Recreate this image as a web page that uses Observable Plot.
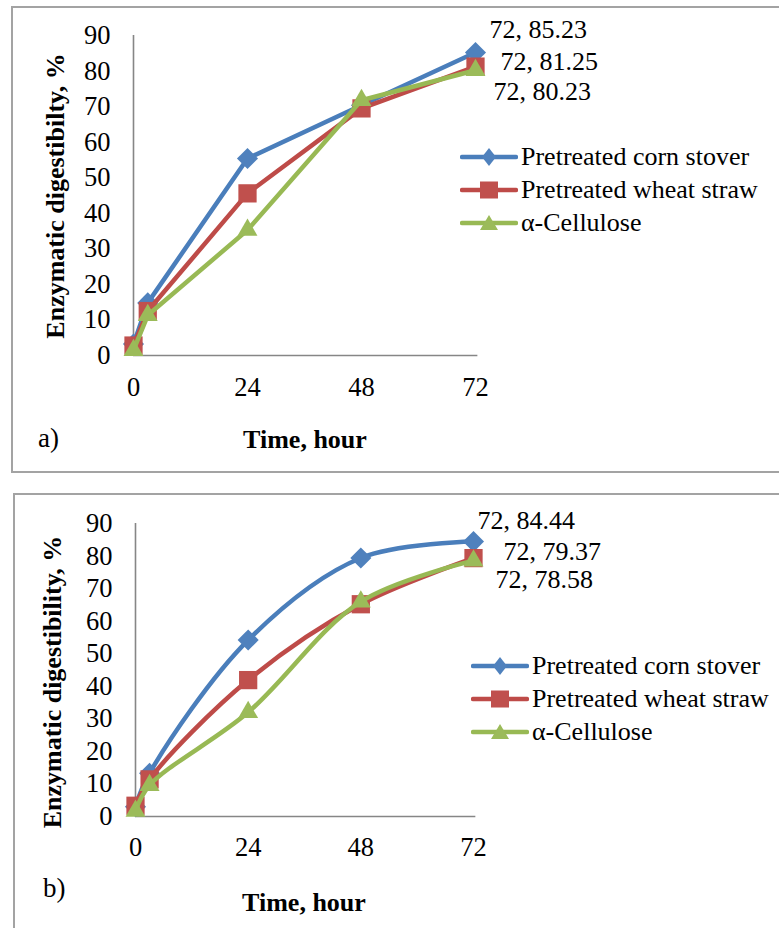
<!DOCTYPE html>
<html>
<head>
<meta charset="utf-8">
<script src="https://cdn.jsdelivr.net/npm/d3@7"></script>
<script src="https://cdn.jsdelivr.net/npm/@observablehq/plot@0.6"></script>
<style>
  html, body { margin: 0; padding: 0; background: #fff; }
  body { font-family: "Liberation Serif", "Times New Roman", serif; }
  #wrap { position: relative; width: 779px; height: 928px; overflow: hidden; background: #fff; }
  .panel { position: absolute; border: 2px solid #a3a3a3; box-sizing: border-box; }
  .abs { position: absolute; white-space: nowrap; line-height: 1; color: #000; }
  .ttl { font-weight: bold; font-size: 26px; }
  .ylab { transform: translate(-50%, -50%) rotate(-90deg); }
  .xlab { transform: translate(-50%, -50%); }
  .tag { font-size: 27px; transform: translateY(-50%); }
  .leg { font-size: 26px; display: flex; align-items: center; transform: translateY(-50%); }
  .leg svg { margin-right: 3px; }
</style>
</head>
<body>
<div id="wrap"></div>
<script>
// ---- data ----
const hours = [0, 3, 24, 48, 72];
const xTicks = [0, 24, 48, 72];
const yTicks = [0, 10, 20, 30, 40, 50, 60, 70, 80, 90];
const seriesNames = ["Pretreated corn stover", "Pretreated wheat straw", "α-Cellulose"];
const lineColors = ["#4A7EBB", "#BE4B48", "#98B954"];
const markColors = ["#4F81BD", "#C0504D", "#9BBB59"];
// panel a
const cornA = [3.2, 14.8, 55.4, 70.4, 85.23];
const wheatA = [2.8, 12.5, 45.6, 69.5, 81.25];
const celluA = [1.5, 11.3, 35.3, 71.8, 80.23];
// panel b
const cornB = [3.0, 13.3, 54.2, 79.4, 84.44];
const wheatB = [3.3, 11.4, 41.9, 65.2, 79.37];
const celluB = [1.7, 9.6, 32.0, 66.0, 78.58];

const yTitleA = "Enzymatic digestibilty, %";
const yTitleB = "Enzymatic digestibility, %";
const xTitle = "Time, hour";

function rows(vals) { return hours.map((h, i) => ({h, v: vals[i]})); }

function makePlot(series, opts) {
  const marks = [
    Plot.ruleX([0], {y1: 0, y2: 90, stroke: "#868686", strokeWidth: 1.6}),
    Plot.ruleY([0], {x1: 0, x2: 72.5, stroke: "#868686", strokeWidth: 1.6}),
    Plot.axisY({ticks: yTicks, tickSize: 0, tickPadding: 23, fontSize: 26.5, label: null}),
    Plot.axisX({ticks: xTicks, tickSize: 0, tickPadding: opts.xPad, fontSize: 26.5, label: null})
  ];
  const symbols = ["diamond2", "square", "triangle"];
  const radii = [9.5, 10.3, 7.4];
  series.forEach((vals, k) => {
    const d = rows(vals);
    marks.push(Plot.line(d, {x: "h", y: "v", stroke: lineColors[k], strokeWidth: 4.5, curve: opts.curve, strokeLinejoin: "round"}));
    marks.push(Plot.dot(d, {x: "h", y: "v", symbol: symbols[k], r: radii[k], fill: markColors[k], stroke: "none"}));
  });
  series.forEach((vals, k) => {
    const last = rows(vals).slice(-1);
    marks.push(Plot.text(last, {x: "h", y: "v", text: d => `${d.h}, ${d3.format(".2f")(d.v)}`,
      textAnchor: "start", lineAnchor: "middle", fontSize: 26, fill: "#000",
      dx: opts.labelOffsets[k][0], dy: opts.labelOffsets[k][1]}));
  });
  return Plot.plot({
    width: 779, height: opts.height,
    marginLeft: opts.ml, marginRight: 779 - opts.xEnd, marginTop: opts.mt, marginBottom: opts.mb,
    x: {domain: [0, 72]},
    y: {domain: [0, 90]},
    style: {fontFamily: '"Liberation Serif", "Times New Roman", serif', color: "#000", background: "transparent", overflow: "visible"},
    marks
  });
}

const wrap = document.getElementById("wrap");

function addPanel(cfg) {
  const p = document.createElement("div");
  p.className = "panel";
  Object.assign(p.style, {left: cfg.box[0] + "px", top: cfg.box[1] + "px", width: cfg.box[2] + "px", height: cfg.box[3] + "px"});
  wrap.appendChild(p);

  const svg = makePlot(cfg.series, cfg.plot);
  svg.style.position = "absolute";
  svg.style.left = "0px";
  svg.style.top = cfg.top + "px";
  wrap.appendChild(svg);

  const yl = document.createElement("div");
  yl.className = "abs ttl ylab";
  yl.textContent = cfg.yTitle;
  Object.assign(yl.style, {left: cfg.yTitlePos[0] + "px", top: cfg.yTitlePos[1] + "px"});
  wrap.appendChild(yl);

  const xl = document.createElement("div");
  xl.className = "abs ttl xlab";
  xl.textContent = xTitle;
  Object.assign(xl.style, {left: cfg.xTitlePos[0] + "px", top: cfg.xTitlePos[1] + "px"});
  wrap.appendChild(xl);

  const tg = document.createElement("div");
  tg.className = "abs tag";
  tg.textContent = cfg.tag;
  Object.assign(tg.style, {left: cfg.tagPos[0] + "px", top: cfg.tagPos[1] + "px"});
  wrap.appendChild(tg);

  seriesNames.forEach((name, k) => {
    const row = document.createElement("div");
    row.className = "abs leg";
    Object.assign(row.style, {left: cfg.legPos[0] + "px", top: (cfg.legPos[1] + k * 33) + "px"});
    const ns = "http://www.w3.org/2000/svg";
    const s = document.createElementNS(ns, "svg");
    s.setAttribute("width", 58); s.setAttribute("height", 24);
    const ln = document.createElementNS(ns, "line");
    ln.setAttribute("x1", 2); ln.setAttribute("x2", 56); ln.setAttribute("y1", 12); ln.setAttribute("y2", 12);
    ln.setAttribute("stroke", lineColors[k]); ln.setAttribute("stroke-width", 4.5); ln.setAttribute("stroke-linecap", "round");
    s.appendChild(ln);
    let m;
    if (k === 0) {
      m = document.createElementNS(ns, "path");
      m.setAttribute("d", "M29,3 L36,12 L29,21 L22,12 Z");
    } else if (k === 1) {
      m = document.createElementNS(ns, "rect");
      m.setAttribute("x", 20); m.setAttribute("y", 3.5); m.setAttribute("width", 18); m.setAttribute("height", 17);
    } else {
      m = document.createElementNS(ns, "path");
      m.setAttribute("d", "M29,4 L38,19 L20,19 Z");
    }
    m.setAttribute("fill", markColors[k]);
    s.appendChild(m);
    row.appendChild(s);
    const t = document.createElement("span");
    t.textContent = name;
    row.appendChild(t);
    wrap.appendChild(row);
  });
}

addPanel({
  box: [11, 6, 790, 467], top: 0, series: [cornA, wheatA, celluA],
  plot: {height: 470, ml: 133, xEnd: 475, mt: 35, mb: 115, xPad: 22, curve: "linear",
         labelOffsets: [[14, -23], [25, -5], [18, 21]]},
  yTitle: yTitleA, yTitlePos: [56, 196], xTitlePos: [305, 440], tag: "a)", tagPos: [38, 438],
  legPos: [460, 157]
});

addPanel({
  box: [13, 493, 790, 460], top: 470, series: [cornB, wheatB, celluB],
  plot: {height: 458, ml: 135, xEnd: 473, mt: 53, mb: 112, xPad: 21, curve: "catmull-rom",
         labelOffsets: [[4, -21], [30, -6], [22, 19]]},
  yTitle: yTitleB, yTitlePos: [53, 682], xTitlePos: [304, 903], tag: "b)", tagPos: [43, 888],
  legPos: [471, 666]
});
</script>
</body>
</html>
